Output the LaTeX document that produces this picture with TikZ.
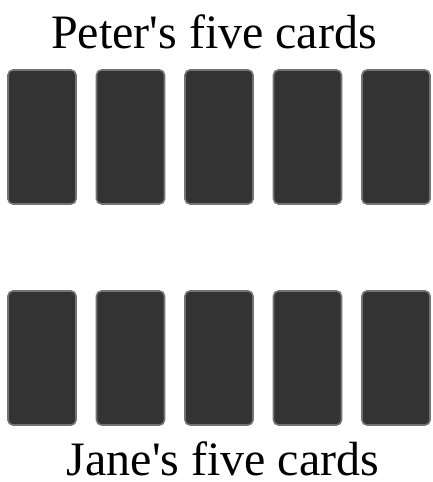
\documentclass[tikz,border=0pt]{standalone}
\usepackage{fontspec}
\setmainfont{Liberation Serif}
\begin{document}
\begin{tikzpicture}[x=1pt,y=-1pt,
  card/.style={draw=cardedge,fill=cardfill,line width=1.6pt,rounded corners=5pt},
  lbl/.style={font=\fontsize{48}{56}\selectfont,anchor=base,inner sep=0pt}]
\definecolor{cardfill}{HTML}{333333}
\definecolor{cardedge}{HTML}{737373}
\useasboundingbox (0,0) rectangle (432,482);
\node[lbl] (peter) at (214,48) {Peter\textquotesingle s five cards};
\node[lbl] (jane) at (223,475) {Jane\textquotesingle s five cards};
\foreach \i/\x in {1/8,2/96.5,3/185,4/273.5,5/362}{
  \draw[card] (\x,70) rectangle ++(68,134);
  \draw[card] (\x,291) rectangle ++(68,134);
}
\end{tikzpicture}
\end{document}
